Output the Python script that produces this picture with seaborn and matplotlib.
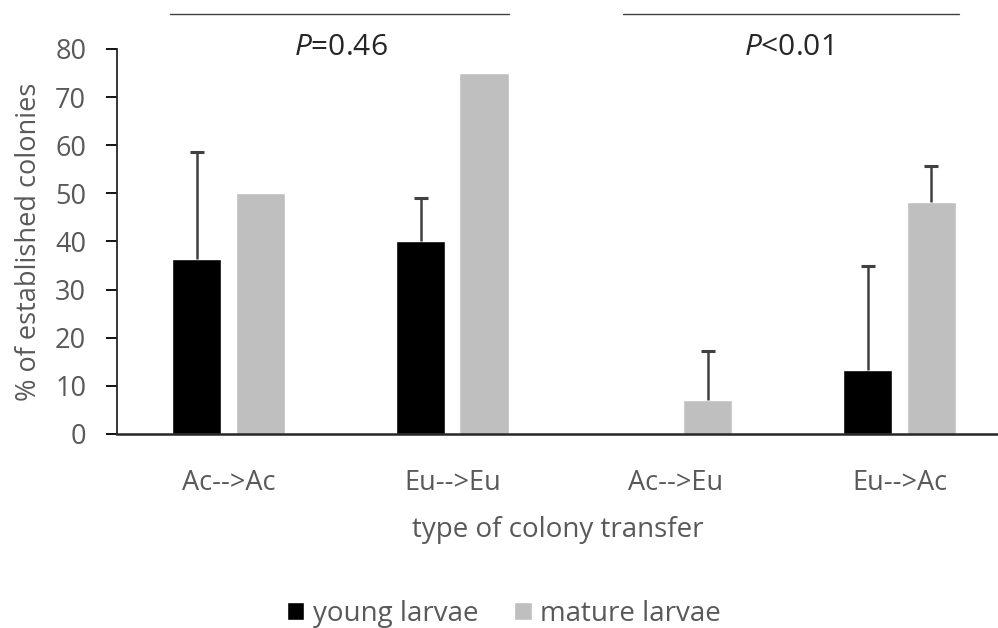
import seaborn as sns
import numpy as np
import pandas as pd
import matplotlib.pyplot as plt

transfers = ['Ac-->Ac', 'Eu-->Eu', 'Ac-->Eu', 'Eu-->Ac']
young = [36.4, 40.0, 0.0, 13.3]
mature = [50.0, 75.0, 7.1, 48.1]
# upper end of error bars (nan = no bar)
young_err_top = [58.5, 49.0, np.nan, 34.9]
mature_err_top = [np.nan, np.nan, 17.3, 55.7]
groups = ['young larvae', 'mature larvae']

df = pd.DataFrame({
    'transfer': transfers * 2,
    'group': [groups[0]] * 4 + [groups[1]] * 4,
    'pct': young + mature,
})

sns.set_style('ticks')
plt.rcParams['font.family'] = ['Open Sans', 'DejaVu Sans']
plt.rcParams['mathtext.fontset'] = 'custom'
plt.rcParams['mathtext.it'] = 'Open Sans:italic'
plt.rcParams['mathtext.rm'] = 'Open Sans'
grey_txt = '#595959'

fig = plt.figure(figsize=(9.98, 6.28), dpi=100)
ax = fig.add_axes([0.117, 0.309, 0.883, 0.613])

sns.barplot(data=df, x='transfer', y='pct', hue='group', order=transfers,
            hue_order=groups, palette=['black', '#bfbfbf'], width=0.568,
            gap=0.225, errorbar=None, ax=ax, legend=True)

# one-sided error bars on top of the bars
for cont, vals, tops in zip(ax.containers, [young, mature], [young_err_top, mature_err_top]):
    for bar, v, t in zip(cont, vals, tops):
        if np.isnan(t):
            continue
        xc = bar.get_x() + bar.get_width() / 2
        ax.vlines(xc, v, t, color='#404040', lw=1.8, zorder=1)
        ax.plot([xc], [t], marker='_', ms=10, mew=2.2, color='#404040', zorder=1)

ax.set_ylim(0, 80)
ax.set_xlim(-0.5, 3.44)
ax.set_yticks(range(0, 81, 10))
ax.tick_params(axis='y', labelsize=19.5, colors='black', labelcolor=grey_txt, length=8, width=1.3, pad=14)
ax.tick_params(axis='x', labelsize=19.5, labelcolor=grey_txt, length=0, pad=25)
ax.set_ylabel('% of established colonies', fontsize=19.5, color=grey_txt, labelpad=9)
ax.set_xlabel('type of colony transfer', fontsize=20, color=grey_txt, labelpad=14)
sns.despine(ax=ax)
ax.spines['left'].set_linewidth(1.3)
ax.spines['bottom'].set_linewidth(1.8)

# significance brackets
ax.plot([-0.26, 1.255], [87.3, 87.3], color='#404040', lw=1, clip_on=False)
ax.plot([1.765, 3.265], [87.3, 87.3], color='#404040', lw=1, clip_on=False)
ax.text(0.5, 80.3, r'$\it{P}$=0.46', ha='center', va='center', fontsize=21.5)
ax.text(2.5, 80.3, r'$\it{P}$<0.01', ha='center', va='center', fontsize=21.5)

ax.legend(loc='center', bbox_to_anchor=(0.505, 0.022), bbox_transform=fig.transFigure,
          ncol=2, frameon=False, fontsize=20, handlelength=0.62, handleheight=0.62,
          columnspacing=1.3, handletextpad=0.3, labelcolor=grey_txt)

fig.savefig('out.png', dpi=100)
